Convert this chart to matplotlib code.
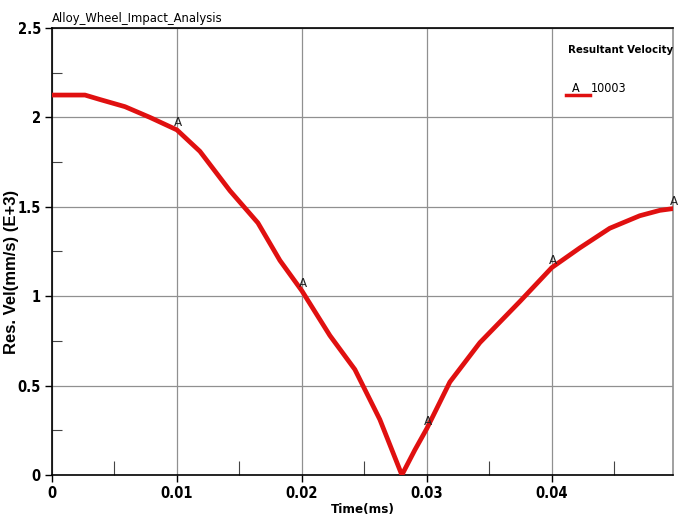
import matplotlib
matplotlib.use("Agg")
import matplotlib.pyplot as plt
from matplotlib.ticker import MultipleLocator
from matplotlib import font_manager as fm

time_ms = [0.0, 0.00264, 0.00384, 0.00584, 0.00784, 0.0100, 0.01184, 0.01424,
           0.01648, 0.01824, 0.0200, 0.02224, 0.02424, 0.02624, 0.0280, 0.02904,
           0.0300, 0.03184, 0.03424, 0.03744, 0.0400, 0.04224, 0.04464, 0.04704,
           0.04864, 0.0497]
res_vel = [2.125, 2.125, 2.10, 2.06, 2.00, 1.93, 1.81, 1.59,
           1.41, 1.20, 1.03, 0.78, 0.59, 0.31, 0.0, 0.14,
           0.26, 0.52, 0.74, 0.97, 1.16, 1.27, 1.38, 1.45,
           1.48, 1.49]
marker_t = [0.01, 0.02, 0.03, 0.04, 0.0497]
marker_v = [1.93, 1.03, 0.26, 1.16, 1.49]

x_ticks = [0, 0.01, 0.02, 0.03, 0.04]
x_ticklabels = ["0", "0.01", "0.02", "0.03", "0.04"]
y_ticks = [0, 0.5, 1, 1.5, 2, 2.5]
y_ticklabels = ["0", "0.5", "1", "1.5", "2", "2.5"]

fam = ["Liberation Sans", "DejaVu Sans"]
red = "#e01010"


def narrow_font(size, weight="normal"):
    """Upright condensed font if one is installed, else Liberation Sans."""
    cands = [f for f in fm.fontManager.ttflist
             if ("Narrow" in f.name or "Condensed" in f.name
                 or str(f.stretch) in ("condensed", "semi-condensed", "75", "87"))
             and f.style == "normal"]
    want_bold = weight == "bold"
    for f in cands:
        is_bold = "bold" in str(f.weight).lower() or str(f.weight) in ("700", "600")
        if is_bold == want_bold:
            return fm.FontProperties(fname=f.fname, size=size)
    return fm.FontProperties(family=fam, size=size * 0.9, weight=weight)


fig = plt.figure(figsize=(6.83, 5.21), dpi=100)
ax = fig.add_axes([52/683, 46/521, 621/683, 447/521])

ax.plot(time_ms, res_vel, color=red, lw=3.4, solid_capstyle="round",
        solid_joinstyle="round", zorder=3)
for t, v in zip(marker_t, marker_v):
    ax.text(t + 0.0001, v + 0.04, "A", fontproperties=narrow_font(9.5),
            color="#222222", ha="center", va="center", zorder=4)

ax.set_xlim(0, 0.0497)
ax.set_ylim(0, 2.5)
ax.set_xticks(x_ticks)
ax.set_xticklabels(x_ticklabels)
ax.set_yticks(y_ticks)
ax.set_yticklabels(y_ticklabels)
ax.xaxis.set_minor_locator(MultipleLocator(0.005))
ax.yaxis.set_minor_locator(MultipleLocator(0.25))
ax.tick_params(axis="both", which="major", direction="out", length=5, width=1, pad=3)
ax.tick_params(axis="x", which="minor", direction="in", length=10, width=0.8,
               color="#444444")
ax.tick_params(axis="y", which="minor", direction="in", length=7, width=0.8,
               color="#444444")
tick_fp = narrow_font(10.5, "bold")
for lbl in ax.get_xticklabels() + ax.get_yticklabels():
    lbl.set_fontproperties(tick_fp)

ax.grid(True, which="major", color="#909090", lw=0.9, zorder=1)
for s in ["left", "bottom", "top"]:
    ax.spines[s].set_color("black")
    ax.spines[s].set_linewidth(1.2)
ax.spines["right"].set_color("#909090")
ax.spines["right"].set_linewidth(1.2)

ax.set_xlabel("Time(ms)", fontproperties=narrow_font(9.5, "bold"), labelpad=1)
ax.set_ylabel("Res. Vel(mm/s) (E+3)", fontsize=12, fontweight="bold", family=fam)
ax.yaxis.set_label_coords((19 - 52) / 621, (475 - 272) / 447)
ax.set_title("Alloy_Wheel_Impact_Analysis", fontproperties=narrow_font(9.3),
             loc="left", pad=4)

fig.text(568/683, 1 - 50/521, "Resultant Velocity", fontproperties=narrow_font(8.2, "bold"),
         va="center", ha="left")
fig.text(572/683, 1 - 89/521, "A", fontproperties=narrow_font(9), va="center", ha="left")
fig.text(591/683, 1 - 89/521, "10003", fontproperties=narrow_font(9), va="center", ha="left")
fig.add_artist(plt.Line2D([566/683, 590/683], [1 - 95/521, 1 - 95/521],
                          color=red, lw=2.5, transform=fig.transFigure))

fig.savefig("out.png", dpi=100)
